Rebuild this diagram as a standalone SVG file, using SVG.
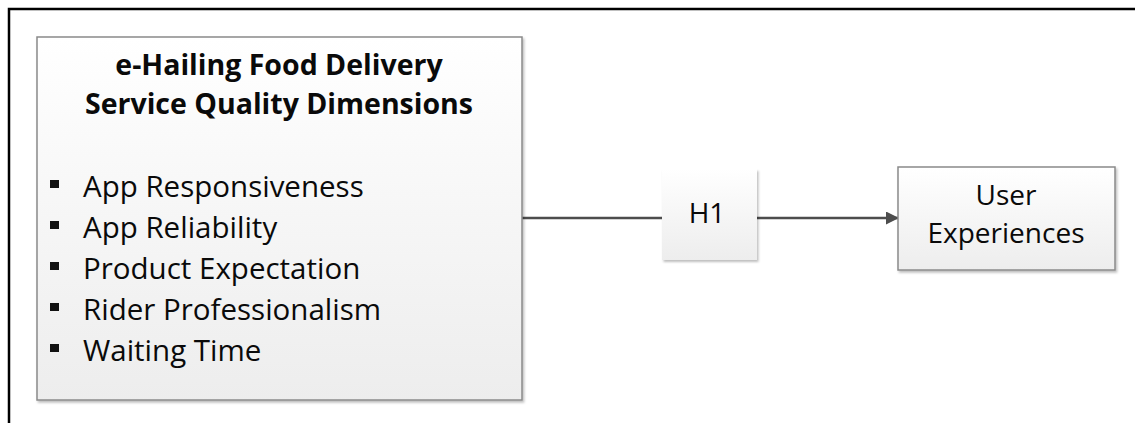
<svg xmlns="http://www.w3.org/2000/svg" width="1135" height="423" viewBox="0 0 1135 423">
<style>
.t{font-family:"Open Sans","Noto Sans",sans-serif;fill:#0a0a0a}
.title{font-weight:bold;font-size:28.5px}
.item{font-size:29.5px}
.lbl{font-size:28px}
.box{stroke:#8a8a8a;stroke-width:1.5}
.conn{stroke:#4d4d4d;stroke-width:2.5;fill:none}
</style>
<defs>
<linearGradient id="g" x1="0" y1="0" x2="0" y2="1">
<stop offset="0" stop-color="#ffffff"/>
<stop offset="1" stop-color="#ededed"/>
</linearGradient>
<filter id="sh" x="-5%" y="-5%" width="115%" height="115%">
<feDropShadow dx="1.5" dy="2" stdDeviation="1.2" flood-color="#000" flood-opacity="0.25"/>
</filter>
<marker id="arr" markerWidth="13" markerHeight="13" refX="12" refY="6.5" orient="auto" markerUnits="userSpaceOnUse">
<path d="M0,0 L13,6.5 L0,13 z" fill="#4d4d4d"/>
</marker>
</defs>
<rect width="1135" height="423" fill="#fff"/>
<path d="M9,423 V9 H1135" fill="none" stroke="#000" stroke-width="2.5"/>
<g id="connectors">
<line class="conn" x1="522" y1="218" x2="662" y2="218"/>
<line class="conn" x1="757" y1="218" x2="898" y2="218" marker-end="url(#arr)"/>
</g>
<g id="dimensions">
<rect class="box" x="37" y="37" width="485" height="363" fill="url(#g)" filter="url(#sh)"/>
<text class="t title" x="279" y="75" text-anchor="middle">e-Hailing Food Delivery</text>
<text class="t title" x="279" y="114" text-anchor="middle">Service Quality Dimensions</text>
<g fill="#111">
<rect x="50" y="180" width="9" height="8"/>
<rect x="50" y="221" width="9" height="8"/>
<rect x="50" y="262" width="9" height="8"/>
<rect x="50" y="303" width="9" height="8"/>
<rect x="50" y="344" width="9" height="8"/>
</g>
<text class="t item" x="83" y="197">App Responsiveness</text>
<text class="t item" x="83" y="238">App Reliability</text>
<text class="t item" x="83" y="279">Product Expectation</text>
<text class="t item" x="83" y="320">Rider Professionalism</text>
<text class="t item" x="83" y="361">Waiting Time</text>
</g>
<g id="h1">
<rect x="662" y="169" width="95" height="91" fill="url(#g)" filter="url(#sh)"/>
<text class="t lbl" x="707" y="223" text-anchor="middle">H1</text>
</g>
<g id="user-experiences">
<rect class="box" x="898" y="167" width="217" height="103" fill="url(#g)" filter="url(#sh)"/>
<text class="t lbl" x="1006" y="205" text-anchor="middle">User</text>
<text class="t lbl" x="1006" y="243" text-anchor="middle">Experiences</text>
</g>
</svg>
